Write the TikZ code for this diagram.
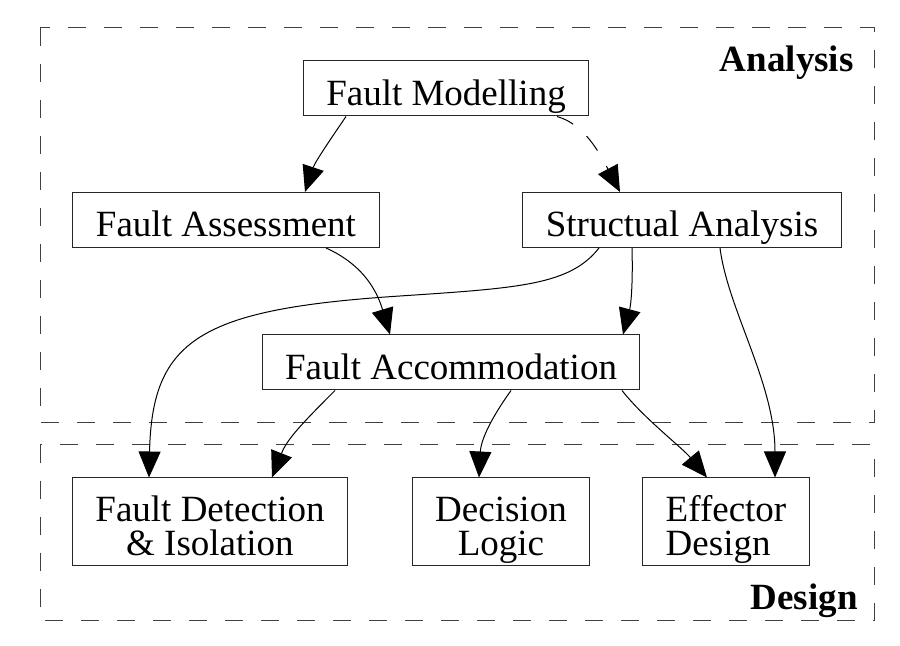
\documentclass[tikz,border=0pt]{standalone}
\usepackage{fontspec}
\setmainfont{Liberation Serif}
\usetikzlibrary{arrows.meta,calc}

\begin{document}
\begin{tikzpicture}[x=0.5pt,y=-0.5pt,
    stage/.style={draw=black!85,line width=0.5pt,rectangle,inner xsep=11.5pt,inner ysep=0pt,
      minimum height=27.5pt,text height=17pt,text depth=0pt,font=\fontsize{18.5}{16.7}\selectfont},
    stagetwo/.style={stage,minimum height=44pt,text height=33.4pt,text depth=0pt},
    cluster/.style={draw=black!75,line width=0.5pt,dash pattern=on 9pt off 9pt},
    flow/.style={draw=black,line width=0.5pt,-{Triangle[length=13pt,width=11pt]}},
    clusterlabel/.style={font=\fontsize{18.5}{16.7}\selectfont\bfseries,inner sep=0pt,anchor=base east}]
  \useasboundingbox (0,0) rectangle (900,646);
  \draw[cluster] (40,28) rectangle (874,423);
  \draw[cluster] (40,445) rectangle (874,620);
  \node[clusterlabel] (analysis) at (854,72) {Analysis};
  \node[clusterlabel] (design) at (858,610) {Design};

  \node[stage] (fm) at (446,88.5) {Fault Modelling};
  \node[stage] (fa) at (226,220) {Fault Assessment};
  \node[stage] (sa) at (682,220) {Structual Analysis};
  \node[stage] (facc) at (451,362.5) {Fault Accommodation};
  \node[stagetwo,align=center] (fdi) at (210,522) {Fault Detection\\\& Isolation};
  \node[stagetwo,align=center] (dl) at (501,522) {Decision\\Logic};
  \node[stagetwo,align=left] (ed) at (726,522) {Effector\\Design};

  \draw[flow] ($(fm.south)+(-100,0)$) .. controls +(-15,22) and +(10,-30) .. ($(fa.north)+(79,0)$);
  \draw[flow,dash pattern=on 9pt off 9pt] ($(fm.south)+(111,0)$) .. controls +(28,8) and +(-20,-38) .. ($(sa.north)+(-62,0)$);
  \draw[flow] ($(fa.south)+(100,0)$) .. controls +(40,18) and +(-12,-40) .. ($(facc.north)+(-61,0)$);
  \draw[flow] ($(sa.south)+(-50,0)$) .. controls +(1,35) and +(8,-30) .. ($(facc.north)+(172,0)$);
  \draw[flow] ($(sa.south)+(-83,0)$) .. controls +(-29,37) and +(120,-8) .. (400,296)
    .. controls +(-200,13) and +(3,-138) .. ($(fdi.north)+(-61,0)$);
  \draw[flow] ($(sa.south)+(38,0)$) .. controls +(8,62) and +(0,-94) .. ($(ed.north)+(49,0)$);
  \draw[flow] ($(facc.south)+(-116,0)$) .. controls +(-35,35) and +(15,-38) .. ($(fdi.north)+(62,0)$);
  \draw[flow] ($(facc.south)+(60,0)$) .. controls +(-20,28) and +(2,-38) .. ($(dl.north)+(-22,0)$);
  \draw[flow] ($(facc.south)+(171,0)$) .. controls +(22,28) and +(-25,-30) .. ($(ed.north)+(-19,0)$);
\end{tikzpicture}
\end{document}
